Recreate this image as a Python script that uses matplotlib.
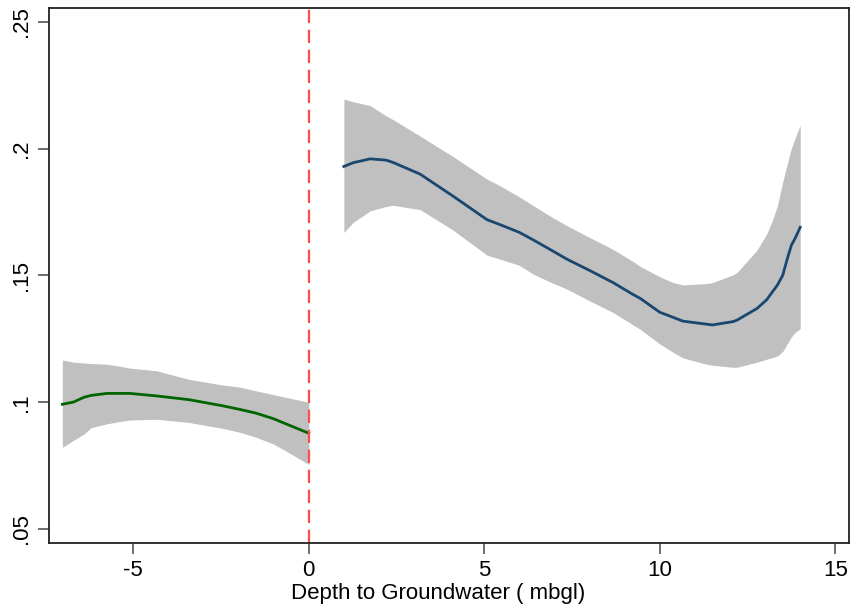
import numpy as np
import matplotlib
matplotlib.use("Agg")
import matplotlib.pyplot as plt

plt.rcParams['font.family'] = ['Liberation Sans', 'DejaVu Sans']

# left side (depth < 0): fitted line and confidence band
left_x = [-7.02, -6.7, -6.4, -6.2, -5.75, -5.3, -5.1, -4.33, -3.4, -2.45, -1.97, -1.5, -1.0, -0.74, 0.0]
left_fit = [0.0992, 0.1001, 0.1020, 0.1027, 0.1035, 0.1035, 0.1035, 0.1025, 0.1010, 0.0986, 0.0972, 0.0957, 0.0935, 0.0920, 0.0878]
left_hi = [0.1167, 0.1158, 0.1155, 0.1153, 0.1150, 0.1140, 0.1135, 0.1124, 0.1090, 0.1068, 0.1060, 0.1045, 0.1030, 0.1022, 0.1000]
left_lo = [0.0822, 0.0850, 0.0875, 0.0900, 0.0915, 0.0926, 0.0930, 0.0933, 0.0920, 0.0897, 0.0882, 0.0862, 0.0835, 0.0815, 0.0755]

# right side (depth > 0)
right_x = [1.0, 1.27, 1.75, 2.2, 2.4, 3.17, 4.1, 5.08, 5.46, 6.0, 6.4, 6.87, 7.36, 8.0, 8.67, 9.24, 9.44,
           10.0, 10.38, 10.66, 11.33, 11.5, 12.08, 12.2, 12.77, 13.05, 13.2, 13.35, 13.5, 13.63, 13.75,
           13.85, 14.0]
right_fit = [0.1930, 0.1945, 0.1960, 0.1955, 0.1946, 0.1900, 0.1814, 0.1720, 0.1700, 0.1670, 0.1640, 0.1603,
             0.1564, 0.1520, 0.1472, 0.1425, 0.1410, 0.1355, 0.1335, 0.1320, 0.1308, 0.1305, 0.1318, 0.1324,
             0.1370, 0.1405, 0.1434, 0.1462, 0.1500, 0.1565, 0.1620, 0.1645, 0.1690]
right_hi = [0.2196, 0.2185, 0.2170, 0.2130, 0.2115, 0.2050, 0.1970, 0.1880, 0.1853, 0.1810, 0.1775, 0.1735,
            0.1696, 0.1650, 0.1603, 0.1555, 0.1536, 0.1495, 0.1472, 0.1463, 0.1468, 0.1472, 0.1502, 0.1512,
            0.1600, 0.1665, 0.1715, 0.1775, 0.1868, 0.1940, 0.2003, 0.2040, 0.2093]
right_lo = [0.1670, 0.1710, 0.1755, 0.1772, 0.1777, 0.1760, 0.1680, 0.1580, 0.1564, 0.1540, 0.1505, 0.1475,
            0.1446, 0.1400, 0.1354, 0.1305, 0.1288, 0.1230, 0.1197, 0.1175, 0.1150, 0.1146, 0.1138, 0.1138,
            0.1158, 0.1170, 0.1176, 0.1183, 0.1200, 0.1230, 0.1258, 0.1275, 0.1290]

xticks = [-5, 0, 5, 10, 15]
yticks = [0.05, 0.10, 0.15, 0.20, 0.25]
ytick_labels = ['.05', '.1', '.15', '.2', '.25']

fig = plt.figure(figsize=(8.5, 6.08), dpi=100)
ax = fig.add_axes([49 / 850, 1 - 543 / 608, 800 / 850, 535 / 608])

band_col = '#c0c0c0'
ax.fill_between(left_x, left_lo, left_hi, color=band_col, linewidth=0)
ax.fill_between(right_x, right_lo, right_hi, color=band_col, linewidth=0)
ax.plot(left_x, left_fit, color='#006400', linewidth=2)
ax.plot(right_x, right_fit, color='#1a476f', linewidth=2)
ax.axvline(0, color='#ff4c4c', linewidth=1.6, linestyle=(0, (6, 3)))

ax.set_xlim(-7.40, 15.39)
ax.set_ylim(0.0445, 0.2555)
ax.set_xticks(xticks)
ax.set_xticklabels([str(t) for t in xticks])
ax.set_yticks(yticks)
ax.set_yticklabels(ytick_labels, rotation=90, va='center')

ax.tick_params(axis='both', direction='out', length=8, width=1.2, color='#555555',
               labelsize=16, pad=4)
for s in ax.spines.values():
    s.set_linewidth(1.3)
    s.set_color('#222222')

ax.set_xlabel('Depth to Groundwater ( mbgl)', fontsize=16)
ax.xaxis.set_label_coords(0.487, -0.074)

plt.savefig('out.png', dpi=100)
